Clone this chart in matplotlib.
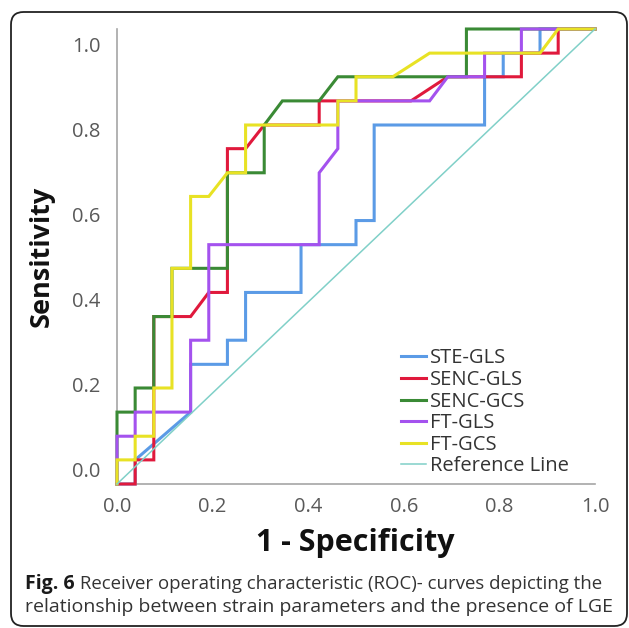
import matplotlib
matplotlib.use("Agg")
import matplotlib.pyplot as plt
from matplotlib.patches import FancyBboxPatch

plt.rcParams['font.family'] = ['Open Sans', 'DejaVu Sans']

# ---- data ----
ste_gls_x = [0, 0.038, 0.038, 0.154, 0.154, 0.231, 0.231, 0.269, 0.269, 0.385, 0.385, 0.5, 0.5, 0.538, 0.538,
             0.769, 0.769, 0.808, 0.808, 0.885, 0.885, 1.0]
ste_gls_y = [0, 0, 0.053, 0.158, 0.263, 0.263, 0.316, 0.316, 0.421, 0.421, 0.526, 0.526, 0.579, 0.579, 0.789,
             0.789, 0.895, 0.895, 0.947, 0.947, 1.0, 1.0]

senc_gls_x = [0, 0.038, 0.038, 0.077, 0.077, 0.154, 0.192, 0.231, 0.231, 0.269, 0.308, 0.423, 0.423, 0.615,
              0.692, 0.846, 0.846, 0.923, 0.923, 1.0]
senc_gls_y = [0, 0, 0.053, 0.053, 0.368, 0.368, 0.421, 0.421, 0.737, 0.737, 0.789, 0.789, 0.842, 0.842,
              0.895, 0.895, 0.947, 0.947, 1.0, 1.0]

senc_gcs_x = [0, 0, 0.038, 0.038, 0.077, 0.077, 0.115, 0.115, 0.231, 0.231, 0.308, 0.308, 0.346, 0.423,
              0.462, 0.731, 0.731, 1.0]
senc_gcs_y = [0, 0.158, 0.158, 0.211, 0.211, 0.368, 0.368, 0.474, 0.474, 0.684, 0.684, 0.789, 0.842, 0.842,
              0.895, 0.895, 1.0, 1.0]

ft_gls_x = [0, 0, 0.038, 0.038, 0.154, 0.154, 0.192, 0.192, 0.423, 0.423, 0.462, 0.462, 0.654, 0.692,
            0.769, 0.769, 0.846, 0.846, 1.0]
ft_gls_y = [0, 0.105, 0.105, 0.158, 0.158, 0.316, 0.316, 0.526, 0.526, 0.684, 0.737, 0.842, 0.842, 0.895,
            0.895, 0.947, 0.947, 1.0, 1.0]

ft_gcs_x = [0, 0, 0.038, 0.038, 0.077, 0.077, 0.115, 0.115, 0.154, 0.154, 0.192, 0.231, 0.269, 0.269,
            0.462, 0.462, 0.5, 0.5, 0.577, 0.654, 0.885, 0.923, 1.0]
ft_gcs_y = [0, 0.053, 0.053, 0.105, 0.105, 0.211, 0.211, 0.474, 0.474, 0.632, 0.632, 0.684, 0.684, 0.789,
            0.789, 0.842, 0.842, 0.895, 0.895, 0.947, 0.947, 1.0, 1.0]

ref_x = [0, 1]
ref_y = [0, 1]

series_names = ["STE-GLS", "SENC-GLS", "SENC-GCS", "FT-GLS", "FT-GCS", "Reference Line"]
series_colors = ["#5b9be6", "#e0193c", "#3a8a35", "#a452ee", "#e8e224", "#80d0c8"]

x_ticks = [0.0, 0.2, 0.4, 0.6, 0.8, 1.0]
x_ticklabels = ["0.0", "0.2", "0.4", "0.6", "0.8", "1.0"]
# y tick labels sit slightly compressed relative to the curves in the source figure
y_ticks = [0.031, 0.218, 0.405, 0.592, 0.78, 0.967]
y_ticklabels = ["0.0", "0.2", "0.4", "0.6", "0.8", "1.0"]

caption_bold = "Fig. 6"
caption_line1 = " Receiver operating characteristic (ROC)- curves depicting the"
caption_line2 = "relationship between strain parameters and the presence of LGE"

# ---- figure ----
W, H = 629, 628
fig = plt.figure(figsize=(W / 100, H / 100), dpi=100)
fig.patch.set_facecolor("white")

# rounded border
border = FancyBboxPatch((11 / W, 1 - 626 / H), 616 / W, 614 / H,
                        boxstyle="round,pad=0,rounding_size=0.02",
                        transform=fig.transFigure, fill=False,
                        edgecolor="#222222", linewidth=1.3)
fig.patches.append(border)

ax = fig.add_axes([117 / W, 1 - 484 / H, 478 / W, 455 / H])
ax.set_xlim(0, 1)
ax.set_ylim(0, 1)

xs = [ste_gls_x, senc_gls_x, senc_gcs_x, ft_gls_x, ft_gcs_x, ref_x]
ys = [ste_gls_y, senc_gls_y, senc_gcs_y, ft_gls_y, ft_gcs_y, ref_y]
widths = [2.2, 2.2, 2.2, 2.2, 2.2, 1.1]
for i, (x, y) in enumerate(zip(xs, ys)):
    ax.plot(x, y, color=series_colors[i], lw=widths[i], label=series_names[i],
            zorder=2 + i, solid_joinstyle="miter", clip_on=False)

for s in ["top", "right"]:
    ax.spines[s].set_visible(False)
for s in ["left", "bottom"]:
    ax.spines[s].set_color("#a6a6a6")
    ax.spines[s].set_linewidth(1.2)

ax.set_xticks(x_ticks)
ax.set_xticklabels(x_ticklabels)
ax.set_yticks(y_ticks)
ax.set_yticklabels(y_ticklabels)
ax.tick_params(length=0, labelsize=14.5, colors="#595959")
ax.tick_params(axis="x", pad=9)
ax.tick_params(axis="y", pad=12)

ax.set_xlabel("1 - Specificity", fontsize=22, fontweight="bold", color="#111111", va="center")
ax.xaxis.set_label_coords(0.498, -0.130)
ax.set_ylabel("Sensitivity", fontsize=19.5, fontweight="bold", color="#111111", va="center")
ax.yaxis.set_label_coords(-0.157, 0.50)

leg = ax.legend(loc="upper left", bbox_to_anchor=(0.595, 0.298), frameon=False,
                fontsize=14.5, handlelength=1.24, handletextpad=0.2, labelspacing=0.08,
                borderpad=0, borderaxespad=0)
for t in leg.get_texts():
    t.set_color("#333333")

t1 = fig.text(25 / W, 1 - 589 / H, caption_bold, fontsize=14, fontweight="bold",
              color="#1a1a1a", va="baseline", ha="left")
fig.canvas.draw()
bb = t1.get_window_extent()
fig.text(bb.x1 / W, 1 - 589 / H, caption_line1, fontsize=13.4, color="#333333",
         va="baseline", ha="left")
fig.text(25 / W, 1 - 612 / H, caption_line2, fontsize=14, color="#333333",
         va="baseline", ha="left")

fig.savefig("out.png", dpi=100, facecolor="white")
